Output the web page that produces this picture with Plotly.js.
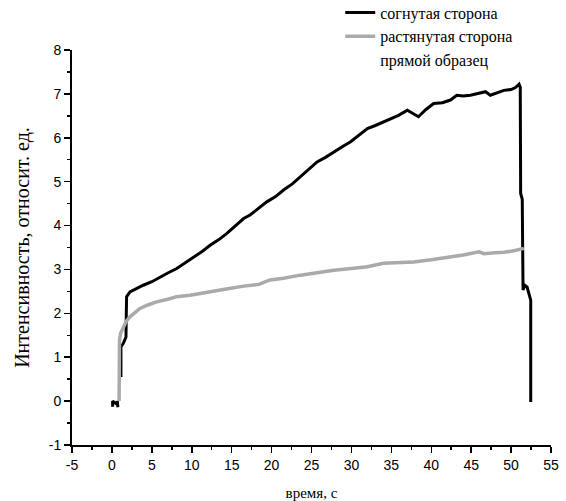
<!DOCTYPE html>
<html>
<head>
<meta charset="utf-8">
<script src="https://cdn.plot.ly/plotly-3.0.1.min.js"></script>
<style>html,body{margin:0;padding:0;background:#fff;}</style>
</head>
<body>
<div id="chart" style="width:566px;height:501px;"></div>
<script>
// Series names
const seriesNames = ["согнутая сторона", "растянутая сторона", "прямой образец"];

// Tick labels (hyphen minus as in the reference)
const xTickVals = [-5, 0, 5, 10, 15, 20, 25, 30, 35, 40, 45, 50, 55];
const xTickText = ["-5", "0", "5", "10", "15", "20", "25", "30", "35", "40", "45", "50", "55"];
const yTickVals = [-1, 0, 1, 2, 3, 4, 5, 6, 7, 8];
const yTickText = ["-1", "0", "1", "2", "3", "4", "5", "6", "7", "8"];

// Bent side (black)
const bentX = [0.09, 0.09, 0.6, 0.67, 0.75, null,
  1.13, 1.13, 1.42, 1.76, 1.8, 1.84, 2.26, 2.67, 2.89, 3.93, 5.0, 6.02, 7.0, 8.12, 9.2, 10.2,
  11.3, 12.3, 13.4, 14.4, 15.5, 16.5, 17.3, 18.4, 19.4, 20.5, 21.5, 22.6, 23.6, 24.7, 25.7,
  26.8, 27.8, 28.9, 29.9, 31.0, 32.0, 33.0, 34.0, 34.9, 35.9, 37.0, 37.7, 38.4, 39.3, 40.3,
  41.4, 42.4, 43.2, 44.0, 44.9, 45.9, 46.8, 47.4, 48.2, 49.1, 50.0, 50.6, 51.0, 51.15, 51.2,
  51.4, 51.45, 51.5, 51.7, 52.0, 52.46, 52.46];
const bentY = [-0.13, 0.0, -0.07, 0.0, -0.14, null,
  0.55, 1.24, 1.31, 1.46, 2.0, 2.38, 2.49, 2.53, 2.54, 2.64, 2.72, 2.83, 2.92, 3.02, 3.15, 3.29,
  3.41, 3.55, 3.68, 3.82, 3.99, 4.16, 4.24, 4.39, 4.54, 4.66, 4.81, 4.95, 5.11, 5.27, 5.45,
  5.56, 5.68, 5.80, 5.91, 6.07, 6.21, 6.28, 6.36, 6.44, 6.51, 6.63, 6.55, 6.48, 6.64, 6.78,
  6.80, 6.86, 6.97, 6.95, 6.97, 7.02, 7.05, 6.97, 7.03, 7.08, 7.10, 7.15, 7.22, 7.15, 4.73,
  4.60, 3.50, 2.53, 2.64, 2.60, 2.30, -0.02];

// Stretched side (gray)
const stretchX = [0.9, 0.92, 0.95, 1.1, 1.42, 1.8, 2.26, 2.9, 3.51, 4.5, 5.6, 7.0, 8.1, 9.8, 11.0,
  12.3, 13.1, 14.5, 16.5, 17.3, 18.4, 19.8, 21.5, 23.6, 25.7, 27.8, 30.0, 32.0, 34.0, 35.9,
  37.8, 40.0, 42.0, 44.0, 46.0, 46.6, 48.0, 49.1, 50.5, 51.6];
const stretchY = [0.0, 1.0, 1.39, 1.55, 1.69, 1.82, 1.92, 2.03, 2.11, 2.19, 2.26, 2.32, 2.38, 2.41, 2.45,
  2.49, 2.53, 2.56, 2.62, 2.64, 2.66, 2.76, 2.80, 2.87, 2.93, 2.98, 3.02, 3.06, 3.14, 3.15,
  3.17, 3.22, 3.27, 3.33, 3.40, 3.36, 3.38, 3.39, 3.43, 3.48];

// Straight sample (no visible data)
const straightX = [null];
const straightY = [null];

const traces = [
  {x: bentX, y: bentY, name: seriesNames[0], type: 'scatter', mode: 'lines',
   line: {color: '#000000', width: 3}, connectgaps: false},
  {x: stretchX, y: stretchY, name: seriesNames[1], type: 'scatter', mode: 'lines',
   line: {color: '#aaaaaa', width: 3.5}},
  {x: straightX, y: straightY, name: seriesNames[2], type: 'scatter', mode: 'lines',
   line: {color: 'rgba(255,255,255,0)', width: 2}, showlegend: true}
];

const tickFont = {family: 'Liberation Sans, Arial, sans-serif', size: 14, color: '#000'};
const legendFont = {family: 'Liberation Serif', size: 16, color: '#000'};
const xTitleFont = {family: 'Liberation Serif', size: 15, color: '#000'};
const yTitleFont = {family: 'Liberation Serif', size: 20, color: '#000'};

const layout = {
  width: 566, height: 501,
  margin: {l: 72, r: 15, t: 50, b: 56, autoexpand: false},
  paper_bgcolor: '#fff', plot_bgcolor: '#fff',
  showlegend: true,
  legend: {x: 0.56, y: 1.138, xanchor: 'left', yanchor: 'top', font: legendFont,
           bgcolor: 'rgba(0,0,0,0)', tracegroupgap: 0},
  xaxis: {
    range: [-5, 55], tickmode: 'array', tickvals: xTickVals, ticktext: xTickText,
    showgrid: false, zeroline: false, automargin: false,
    showline: true, linecolor: '#000', linewidth: 2,
    ticks: 'outside', ticklen: 6, tickwidth: 1.5, tickcolor: '#000',
    minor: {ticks: 'outside', ticklen: 3, tickwidth: 1.5, tickcolor: '#000', dtick: 2.5, showgrid: false},
    tickfont: tickFont,
    title: {text: 'время, с', font: xTitleFont, standoff: 16}
  },
  yaxis: {
    range: [-1, 8], tickmode: 'array', tickvals: yTickVals, ticktext: yTickText,
    showgrid: false, zeroline: false, automargin: false,
    showline: true, linecolor: '#000', linewidth: 2,
    ticks: 'outside', ticklen: 6, tickwidth: 1.5, tickcolor: '#000',
    minor: {ticks: 'outside', ticklen: 3, tickwidth: 1.5, tickcolor: '#000', dtick: 0.5, showgrid: false},
    tickfont: tickFont,
    title: {text: 'Интенсивность, относит. ед.', font: yTitleFont, standoff: 14}
  }
};

Plotly.newPlot('chart', traces, layout, {displayModeBar: false, staticPlot: true});
</script>
</body>
</html>
